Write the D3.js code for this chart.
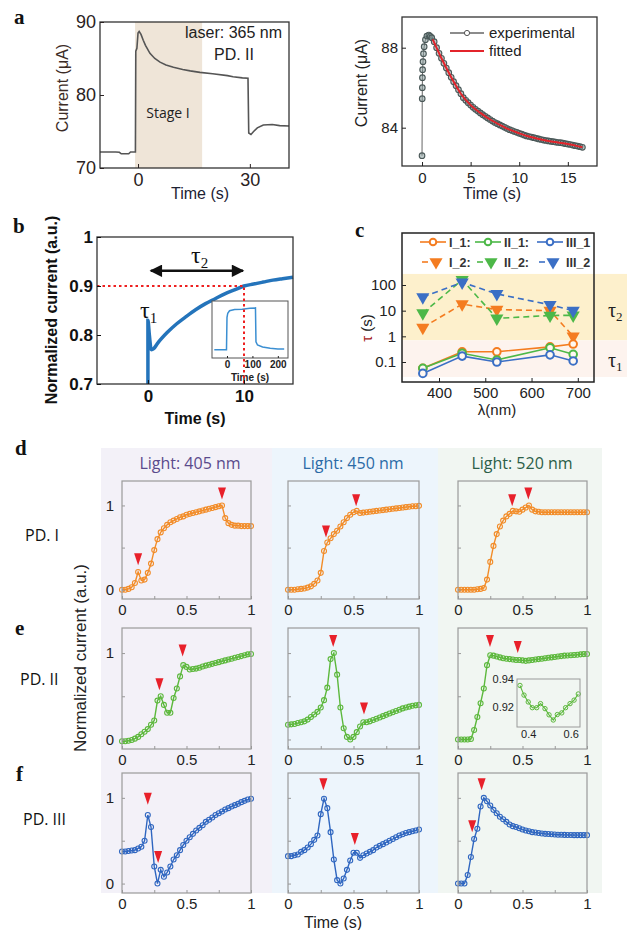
<!DOCTYPE html>
<html>
<head>
<meta charset="utf-8">
<script src="https://cdn.jsdelivr.net/npm/d3@7"></script>
<style>
  body { margin: 0; background: #fff; }
  svg { display: block; }
</style>
</head>
<body>
<svg id="fig" width="627" height="930"></svg>
<script>
// ---------- panel a (left): photocurrent trace ----------
const aTime = [-10.2, -6, -5, -4.5, -2.5, -2, -0.7, -0.6, -0.3, 0, 0.3, 0.8, 1.4, 2, 3.2, 4.5, 5.9, 7.5, 9.5, 12, 14, 16.6, 20, 24, 25.5, 28, 29.5, 29.7, 30.3, 31, 32, 33.6, 36, 38, 40.5];
const aCurrent = [72.2, 72.2, 72.15, 71.95, 71.95, 72.2, 72.2, 86.0, 86.4, 88.5, 88.7, 88.3, 87.5, 86.8, 85.7, 85.0, 84.5, 84.1, 83.8, 83.5, 83.3, 83.1, 82.9, 82.65, 82.5, 82.35, 82.3, 74.8, 74.6, 75.0, 75.5, 75.9, 75.95, 75.8, 75.75];
const stageI = [-0.8, 17.2];
const aLeftYTicks = [70, 80, 90];
const aLeftXTicks = [0, 30];

// ---------- panel a (right): experimental vs fitted ----------
const expTime = [0, 0.02, 0.03, 0.04, 0.06, 0.1, 0.15, 0.22, 0.35, 0.5, 0.7, 0.85,
  1, 1.25, 1.5, 1.75, 2, 2.25, 2.5, 2.75, 3, 3.25, 3.5, 3.75, 4, 4.25, 4.5, 4.75, 5, 5.25, 5.5, 5.75,
  6, 6.25, 6.5, 6.75, 7, 7.25, 7.5, 7.75, 8, 8.25, 8.5, 8.75, 9, 9.25, 9.5, 9.75, 10, 10.25, 10.5, 10.75,
  11, 11.25, 11.5, 11.75, 12, 12.25, 12.5, 12.75, 13, 13.25, 13.5, 13.75, 14, 14.25, 14.5, 14.75,
  15, 15.25, 15.5, 15.75, 16, 16.25, 16.5];
const expCurrent = [82.6, 85.45, 86.0, 86.5, 86.9, 87.3, 87.7, 88.05, 88.4, 88.58, 88.63, 88.57,
  88.5, 88.3, 88.0, 87.72, 87.47, 87.22, 86.98, 86.75, 86.52, 86.3, 86.1, 85.9, 85.7, 85.5, 85.37, 85.25, 85.13, 85.02, 84.92, 84.83,
  84.74, 84.65, 84.57, 84.49, 84.41, 84.33, 84.26, 84.2, 84.14, 84.08, 84.02, 83.96, 83.9, 83.86, 83.81, 83.77, 83.72, 83.68, 83.63, 83.59,
  83.56, 83.53, 83.5, 83.47, 83.44, 83.41, 83.38, 83.36, 83.34, 83.32, 83.3, 83.28, 83.26, 83.25, 83.23, 83.2,
  83.18, 83.16, 83.13, 83.1, 83.08, 83.05, 83.02];
const fitTime = [1.1, 2, 3, 4, 5, 6, 7, 8, 9, 10, 11, 12, 13, 14, 15, 16, 16.5];
const fitCurrent = [88.42, 87.47, 86.52, 85.7, 85.13, 84.74, 84.41, 84.14, 83.9, 83.72, 83.56, 83.44, 83.34, 83.26, 83.18, 83.08, 83.02];
const aRightYTicks = [84, 88];
const aRightXTicks = [0, 5, 10, 15];

// ---------- panel b ----------
const bTime = [0, 0, 0.15, 0.35, 0.6, 1, 2, 3, 4, 5, 6, 7, 8, 9, 10, 11, 12, 13, 14, 15.1];
const bCurrent = [0.70, 0.83, 0.80, 0.77, 0.772, 0.783, 0.805, 0.823, 0.838, 0.852, 0.864, 0.874, 0.884, 0.892, 0.9, 0.904, 0.908, 0.912, 0.915, 0.918];
const bInsetTime = [-50, -2, 0, 3, 10, 30, 60, 90, 112, 114, 120, 140, 170, 200, 225];
const bInsetCurrent = [0, 0, 0.8, 0.9, 0.96, 0.99, 1.0, 1.02, 1.03, 0.2, 0.12, 0.07, 0.04, 0.02, 0.02];
const bYTicks = [0.7, 0.8, 0.9, 1];
const bXTicks = [0, 10];
const bInsetXTicks = [0, 100, 200];
const bThreshold = 0.9, bTau2Time = 10;

// ---------- panel c ----------
const wavelengths = [365, 450, 525, 640, 690];
const tauI1 = [0.057, 0.25, 0.25, 0.39, 0.5];
const tauII1 = [0.057, 0.22, 0.12, 0.36, 0.2];
const tauIII1 = [0.036, 0.17, 0.1, 0.19, 0.11];
const tauI2 = [2.2, 18, 11, 10, 1.0];
const tauII2 = [8, 160, 5, 6.5, 6.6];
const tauIII2 = [34, 127, 45, 17, 10];
const tau2Band = [0.7, 270];
const tau1Band = [0.026, 0.7];
const cXTicks = [400, 500, 600, 700];
const cYTicks = [0.1, 1, 10, 100];

// ---------- panels d-f: normalized transients, sampled every 0.025 s ----------
const sampleTimes = d3.range(41).map(i => i / 40);
const pd1_405 = [0.00,0.00,0.01,0.03,0.08,0.21,0.11,0.12,0.20,0.31,0.47,0.60,0.68,0.73,0.77,0.80,0.82,0.84,0.86,0.87,0.89,0.90,0.91,0.92,0.93,0.94,0.95,0.96,0.97,0.98,0.99,1.00,0.85,0.79,0.77,0.76,0.76,0.755,0.755,0.755,0.755];
const pd1_450 = [0.0,0.0,0.0,0.005,0.01,0.015,0.025,0.04,0.07,0.11,0.2,0.46,0.56,0.61,0.66,0.7,0.75,0.8,0.85,0.89,0.92,0.935,0.91,0.915,0.92,0.925,0.93,0.935,0.94,0.945,0.95,0.955,0.96,0.965,0.97,0.975,0.98,0.985,0.99,0.99,0.995];
const pd1_520 = [0,0,0,0,0,0,0.005,0.01,0.02,0.12,0.33,0.52,0.66,0.75,0.82,0.87,0.9,0.935,0.93,0.925,0.95,0.975,1.0,0.95,0.93,0.925,0.92,0.92,0.92,0.92,0.92,0.92,0.92,0.92,0.92,0.92,0.92,0.92,0.92,0.92,0.92];
const pd2_405 = [-0.02,-0.02,-0.015,-0.005,0.01,0.03,0.06,0.09,0.12,0.17,0.22,0.45,0.5,0.4,0.31,0.31,0.48,0.59,0.73,0.86,0.84,0.81,0.815,0.82,0.83,0.845,0.855,0.865,0.875,0.885,0.895,0.905,0.915,0.925,0.935,0.945,0.955,0.965,0.975,0.985,0.99];
const pd2_450 = [0.17,0.175,0.18,0.19,0.2,0.21,0.23,0.26,0.29,0.32,0.37,0.455,0.6,0.93,1.0,0.75,0.37,0.13,0.03,0.0,0.03,0.085,0.15,0.2,0.2,0.21,0.225,0.24,0.255,0.27,0.285,0.3,0.315,0.33,0.345,0.36,0.37,0.38,0.39,0.395,0.4];
const pd2_520 = [0,0,0,0,0.005,0.11,0.26,0.42,0.59,0.86,0.975,0.97,0.96,0.95,0.94,0.935,0.93,0.925,0.92,0.92,0.915,0.91,0.915,0.92,0.925,0.93,0.935,0.94,0.945,0.95,0.955,0.96,0.965,0.97,0.972,0.975,0.978,0.98,0.985,0.988,0.99];
const pd3_405 = [0.375,0.375,0.38,0.385,0.39,0.41,0.43,0.5,0.8,0.66,0.2,0.0,0.16,0.08,0.13,0.2,0.28,0.33,0.39,0.45,0.5,0.54,0.58,0.62,0.65,0.68,0.72,0.745,0.77,0.8,0.82,0.84,0.865,0.88,0.9,0.915,0.93,0.95,0.965,0.98,0.99];
const pd3_450 = [0.32,0.32,0.33,0.34,0.37,0.39,0.42,0.46,0.51,0.56,0.81,0.99,0.88,0.6,0.28,0.04,0.0,0.06,0.16,0.27,0.36,0.36,0.3,0.33,0.35,0.37,0.39,0.42,0.44,0.46,0.48,0.5,0.52,0.54,0.56,0.575,0.59,0.6,0.61,0.62,0.63];
const pd3_520 = [0,0,0,0.1,0.31,0.52,0.64,0.9,1.0,0.96,0.91,0.86,0.82,0.78,0.75,0.72,0.69,0.67,0.66,0.645,0.63,0.62,0.61,0.6,0.595,0.59,0.585,0.58,0.578,0.575,0.572,0.57,0.57,0.568,0.567,0.566,0.565,0.565,0.565,0.565,0.565];

// red arrow heads: [time, tip value]
const arrows_pd1_405 = [[0.125, 0.29], [0.775, 1.07]];
const arrows_pd1_450 = [[0.29, 0.62], [0.52, 0.99]];
const arrows_pd1_520 = [[0.42, 0.99], [0.545, 1.07]];
const arrows_pd2_405 = [[0.29, 0.57], [0.47, 0.96]];
const arrows_pd2_450 = [[0.345, 1.07], [0.58, 0.29]];
const arrows_pd2_520 = [[0.248, 1.07], [0.463, 1.0]];
const arrows_pd3_405 = [[0.2, 0.92], [0.28, 0.24]];
const arrows_pd3_450 = [[0.27, 1.09], [0.51, 0.45]];
const arrows_pd3_520 = [[0.11, 0.6], [0.183, 1.09]];

// inset of PD.II @ 520 nm
const insetTime = [0.361, 0.38, 0.40, 0.419, 0.44, 0.458, 0.479, 0.498, 0.518, 0.537, 0.558, 0.576, 0.597, 0.616, 0.636];
const insetCurrent = [0.9354, 0.9285, 0.9236, 0.9195, 0.9195, 0.9224, 0.9188, 0.9144, 0.9107, 0.9146, 0.9158, 0.9195, 0.9224, 0.9249, 0.9293];

const lights = ["Light: 405 nm", "Light: 450 nm", "Light: 520 nm"];
const devices = ["PD. I", "PD. II", "PD. III"];

// ---------------------------------------------------------------
const svg = d3.select("#fig");
const SANS = "'Liberation Sans', Arial, sans-serif";
const SERIF = "'Liberation Serif', 'Times New Roman', serif";
const SOFT = "'Open Sans', 'Noto Sans', sans-serif";
const plain = d => `${d}`;

const addAxis = (gen, tx, ty) =>
  svg.append("g").attr("transform", `translate(${tx},${ty})`).call(gen);

const styleAxis = (g, size, color, weight, font) => {
  g.select(".domain").remove();
  g.selectAll(".tick text")
    .attr("font-size", size)
    .attr("font-family", font || SANS)
    .attr("font-weight", weight || "normal")
    .attr("fill", color);
  g.selectAll(".tick line").attr("stroke", color);
  return g;
};

const label = (x, y, txt, size, opts = {}) =>
  svg.append("text")
    .attr("x", x).attr("y", y)
    .attr("font-family", opts.font || SANS)
    .attr("font-size", size)
    .attr("font-weight", opts.weight || "normal")
    .attr("fill", opts.fill || "#111")
    .attr("text-anchor", opts.anchor || "start")
    .attr("transform", opts.rotate ? `rotate(-90,${x},${y})` : null)
    .text(txt);

const frame = (x0, x1, y0, y1, stroke, sw) =>
  svg.append("rect")
    .attr("x", x0).attr("y", y0)
    .attr("width", x1 - x0).attr("height", y1 - y0)
    .attr("fill", "none").attr("stroke", stroke).attr("stroke-width", sw);

// panel letters
[["a", 14, 24], ["b", 13, 233], ["c", 355, 237], ["d", 15, 455], ["e", 15, 635], ["f", 16, 781]]
  .forEach(([t, x, y]) => label(x, y, t, 21, { font: SERIF, weight: "bold" }));

// ================= panel a left =================
const initALeft = () => {
  const x = d3.scaleLinear().domain([-10.2, 40.5]).range([100, 289]);
  const y = d3.scaleLinear().domain([70, 90]).range([168, 22]);

  svg.append("rect")
    .attr("x", x(stageI[0])).attr("y", 22)
    .attr("width", x(stageI[1]) - x(stageI[0])).attr("height", 146)
    .attr("fill", "#efe5d8");

  svg.append("path")
    .datum(d3.zip(aTime, aCurrent))
    .attr("d", d3.line().x(d => x(d[0])).y(d => y(d[1])))
    .attr("fill", "none").attr("stroke", "#555").attr("stroke-width", 1.6);

  frame(100, 289, 22, 168, "#333", 1.3);
  styleAxis(addAxis(d3.axisLeft(y).tickValues(aLeftYTicks).tickFormat(plain).tickSizeInner(-4).tickSizeOuter(0).tickPadding(4), 100, 0), 18, "#2a2222");
  styleAxis(addAxis(d3.axisBottom(x).tickValues(aLeftXTicks).tickFormat(plain).tickSizeInner(-4).tickSizeOuter(0).tickPadding(5), 0, 168), 18, "#2a2222");

  label(282, 38, "laser: 365 nm", 16, { anchor: "end", fill: "#222" });
  label(234, 60, "PD. II", 16, { anchor: "middle", fill: "#222" });
  label(168, 118, "Stage I", 14, { anchor: "middle", font: SOFT, fill: "#222" });
  label(68, 88, "Current (\u03bcA)", 16, { anchor: "middle", rotate: true, fill: "#3c2c26" });
  label(200, 199, "Time (s)", 16, { anchor: "middle", fill: "#1d2233" });
};

// ================= panel a right =================
const initARight = () => {
  const x = d3.scaleLinear().domain([-2.06, 18]).range([402, 597]);
  const y = d3.scaleLinear().domain([84, 88]).range([127.7, 47.7]);

  svg.append("path")
    .datum(d3.zip(expTime, expCurrent))
    .attr("d", d3.line().x(d => x(d[0])).y(d => y(d[1])))
    .attr("fill", "none").attr("stroke", "#666").attr("stroke-width", 1);

  svg.append("g").selectAll("circle")
    .data(d3.zip(expTime, expCurrent))
    .join("circle")
    .attr("cx", d => x(d[0])).attr("cy", d => y(d[1])).attr("r", 2.8)
    .attr("fill", "#7d9393").attr("fill-opacity", 0.5).attr("stroke", "#4a5858").attr("stroke-width", 1.1);

  svg.append("path")
    .datum(d3.zip(fitTime, fitCurrent))
    .attr("d", d3.line().curve(d3.curveMonotoneX).x(d => x(d[0])).y(d => y(d[1])))
    .attr("fill", "none").attr("stroke", "#e3242b").attr("stroke-width", 2);

  frame(402, 597, 17, 166, "#333", 1.3);
  styleAxis(addAxis(d3.axisLeft(y).tickValues(aRightYTicks).tickFormat(plain).tickSizeInner(-4).tickSizeOuter(0).tickPadding(4), 402, 0), 15, "#222");
  styleAxis(addAxis(d3.axisBottom(x).tickValues(aRightXTicks).tickFormat(plain).tickSizeInner(-4).tickSizeOuter(0).tickPadding(6), 0, 166), 15, "#222");

  // legend
  svg.append("line").attr("x1", 450).attr("x2", 484).attr("y1", 33).attr("y2", 33).attr("stroke", "#666").attr("stroke-width", 1.5);
  svg.append("circle").attr("cx", 467).attr("cy", 33).attr("r", 2.6).attr("fill", "#fff").attr("stroke", "#555");
  svg.append("line").attr("x1", 450).attr("x2", 484).attr("y1", 51).attr("y2", 51).attr("stroke", "#e3242b").attr("stroke-width", 2);
  label(489, 38, "experimental", 15, { fill: "#222" });
  label(489, 56, "fitted", 15, { fill: "#222" });

  label(367, 83, "Current (\u03bcA)", 16, { anchor: "middle", rotate: true, fill: "#222" });
  label(492, 199, "Time (s)", 16, { anchor: "middle", fill: "#1d2233" });
};

// ================= panel b =================
const initB = () => {
  const x = d3.scaleLinear().domain([-5.3, 15.1]).range([97, 293]);
  const y = d3.scaleLinear().domain([0.7, 1.0]).range([384, 237]);

  svg.append("defs").html(`
    <marker id="ah" viewBox="0 0 10 10" refX="9" refY="5" markerWidth="5.5" markerHeight="5" orient="auto-start-reverse">
      <path d="M0,0 L10,5 L0,10 Z" fill="#111"/>
    </marker>`);

  const blue = "#2474bb";
  svg.append("path")
    .datum(d3.zip(bTime, bCurrent))
    .attr("d", d3.line().curve(d3.curveMonotoneX).x(d => x(d[0])).y(d => y(d[1])))
    .attr("fill", "none").attr("stroke", blue).attr("stroke-width", 3.5);

  // inset
  const ix = d3.scaleLinear().domain([-59, 240]).range([212, 288]);
  const iy = d3.scaleLinear().domain([-0.2, 1.2]).range([358, 301]);
  svg.append("rect").attr("x", 212).attr("y", 301).attr("width", 76).attr("height", 57)
    .attr("fill", "#fff").attr("stroke", "#555").attr("stroke-width", 1);
  svg.append("path")
    .datum(d3.zip(bInsetTime, bInsetCurrent))
    .attr("d", d3.line().x(d => ix(d[0])).y(d => iy(d[1])))
    .attr("fill", "none").attr("stroke", "#3b8fd2").attr("stroke-width", 1.5);
  styleAxis(addAxis(d3.axisBottom(ix).tickValues(bInsetXTicks).tickFormat(plain).tickSizeInner(-2).tickSizeOuter(0).tickPadding(3), 0, 358), 10, "#222", "bold");
  label(250, 381, "Time (s)", 10, { anchor: "middle", weight: "bold", fill: "#222" });

  // threshold guides
  svg.append("path")
    .attr("d", `M${x.range()[0]},${y(bThreshold)} H${x(bTau2Time)} V${y.range()[0]}`)
    .attr("fill", "none").attr("stroke", "#ee2020").attr("stroke-width", 2).attr("stroke-dasharray", "2.5,3");

  // tau2 arrow
  svg.append("line")
    .attr("x1", x(0.3)).attr("x2", x(9.9)).attr("y1", y(0.931)).attr("y2", y(0.931))
    .attr("stroke", "#111").attr("stroke-width", 2.5)
    .attr("marker-start", "url(#ah)").attr("marker-end", "url(#ah)");

  const t2 = label(191, 263, "\u03c4", 24, { font: SERIF, fill: "#111" });
  t2.append("tspan").attr("font-size", 15).attr("dy", 5).text("2");
  const t1 = label(140, 318, "\u03c4", 24, { font: SERIF, fill: "#111" });
  t1.append("tspan").attr("font-size", 15).attr("dy", 5).text("1");

  frame(97, 293, 237, 384, "#333", 1.3);
  styleAxis(addAxis(d3.axisLeft(y).tickValues(bYTicks).tickFormat(plain).tickSizeInner(-4).tickSizeOuter(0).tickPadding(4), 97, 0), 17, "#111", "bold");
  styleAxis(addAxis(d3.axisBottom(x).tickValues(bXTicks).tickFormat(plain).tickSizeInner(-4).tickSizeOuter(0).tickPadding(6), 0, 384), 17, "#111", "bold");

  label(57, 310, "Normalized current (a.u.)", 16, { anchor: "middle", rotate: true, weight: "bold" });
  label(195, 424, "Time (s)", 16, { anchor: "middle", weight: "bold" });
};

// ================= panel c =================
const initC = () => {
  const x = d3.scaleLinear().domain([320, 735]).range([402, 594]);
  const y = d3.scaleLog().domain([Math.pow(10, -1.779), Math.pow(10, 4.026)]).range([382, 233]);

  svg.append("rect").attr("x", 402).attr("width", 627 - 402)
    .attr("y", y(tau2Band[1])).attr("height", y(tau2Band[0]) - y(tau2Band[1])).attr("fill", "#fdf0cc");
  svg.append("rect").attr("x", 402).attr("width", 627 - 402)
    .attr("y", y(tau1Band[1])).attr("height", y(tau1Band[0]) - y(tau1Band[1])).attr("fill", "#fdf3ee");

  const colours = { I: "#f47c20", II: "#4db848", III: "#3b6fc5" };
  const series = [
    { name: "I_2", values: tauI2, c: colours.I, dash: true },
    { name: "II_2", values: tauII2, c: colours.II, dash: true },
    { name: "III_2", values: tauIII2, c: colours.III, dash: true },
    { name: "I_1", values: tauI1, c: colours.I, dash: false },
    { name: "II_1", values: tauII1, c: colours.II, dash: false },
    { name: "III_1", values: tauIII1, c: colours.III, dash: false }
  ];
  const tri = d3.symbol().type(d3.symbolTriangle).size(75);

  series.forEach(s => {
    const pts = d3.zip(wavelengths, s.values);
    svg.append("path").datum(pts)
      .attr("d", d3.line().x(d => x(d[0])).y(d => y(d[1])))
      .attr("fill", "none").attr("stroke", s.c).attr("stroke-width", 1.6)
      .attr("stroke-dasharray", s.dash ? "6,4" : null);
    const g = svg.append("g");
    if (s.dash) {
      g.selectAll("path").data(pts).join("path")
        .attr("d", tri).attr("transform", d => `translate(${x(d[0])},${y(d[1])}) rotate(180)`)
        .attr("fill", s.c);
    } else {
      g.selectAll("circle").data(pts).join("circle")
        .attr("cx", d => x(d[0])).attr("cy", d => y(d[1])).attr("r", 3.8)
        .attr("fill", "#fff8f2").attr("stroke", s.c).attr("stroke-width", 2);
    }
  });

  // legend
  const legendX = [420, 475, 537];
  const legendText = [["I_1:", "II_1:", "III_1"], ["I_2:", "II_2:", "III_2"]];
  const legendColours = [colours.I, colours.II, colours.III];
  legendX.forEach((lx, i) => {
    svg.append("line").attr("x1", lx).attr("x2", lx + 26).attr("y1", 242).attr("y2", 242)
      .attr("stroke", legendColours[i]).attr("stroke-width", 1.6);
    svg.append("circle").attr("cx", lx + 13).attr("cy", 242).attr("r", 3.3)
      .attr("fill", "#fff").attr("stroke", legendColours[i]).attr("stroke-width", 2);
    svg.append("line").attr("x1", lx + 2).attr("x2", lx + 8).attr("y1", 262).attr("y2", 262)
      .attr("stroke", legendColours[i]).attr("stroke-width", 1.6);
    svg.append("path").attr("d", tri).attr("transform", `translate(${lx + 16},${262}) rotate(180)`)
      .attr("fill", legendColours[i]);
    label(lx + 29, 247, legendText[0][i], 12.5, { weight: "bold", fill: "#333" });
    label(lx + 29, 267, legendText[1][i], 12.5, { weight: "bold", fill: "#333" });
  });

  frame(402, 594, 233, 382, "#222", 1.5);
  styleAxis(addAxis(d3.axisLeft(y).tickValues(cYTicks).tickFormat(plain).tickSizeInner(-4).tickSizeOuter(0).tickPadding(6), 402, 0), 15, "#222");
  styleAxis(addAxis(d3.axisBottom(x).tickValues(cXTicks).tickFormat(plain).tickSizeInner(-4).tickSizeOuter(0).tickPadding(5), 0, 382), 15, "#222");

  const yl = label(372, 328, "", 15, { anchor: "middle", rotate: true, fill: "#222" });
  yl.append("tspan").attr("fill", "#a42020").text("\u03c4");
  yl.append("tspan").text(" (s)");
  label(497, 415, "\u03bb(nm)", 15, { anchor: "middle", fill: "#222" });

  const r2 = label(608, 317, "\u03c4", 20, { font: SERIF, fill: "#222" });
  r2.append("tspan").attr("font-size", 13).attr("dy", 4).text("2");
  const r1 = label(608, 367, "\u03c4", 20, { font: SERIF, fill: "#222" });
  r1.append("tspan").attr("font-size", 13).attr("dy", 4).text("1");
};

// ================= panels d-f =================
const initGrid = () => {
  const colBg = [[101, 272], [272, 438], [438, 602]];
  const bgColours = ["#f3f1f8", "#edf5fc", "#f1f6f2"];
  const titleColours = ["#5a4a8c", "#2b6aa6", "#2c5e48"];
  const titleX = [190, 353, 522];
  const colX = [[122, 251], [288, 419], [458, 587]];
  const rowY = [[481, 599], [628, 749], [773, 893]];
  const rowColours = ["#f28c28", "#5cb83c", "#2f66c0"];
  const rowLabelY = [541, 685, 825];
  const data = [[pd1_405, pd1_450, pd1_520], [pd2_405, pd2_450, pd2_520], [pd3_405, pd3_450, pd3_520]];
  const arrows = [[arrows_pd1_405, arrows_pd1_450, arrows_pd1_520],
                  [arrows_pd2_405, arrows_pd2_450, arrows_pd2_520],
                  [arrows_pd3_405, arrows_pd3_450, arrows_pd3_520]];

  colBg.forEach(([a, b], i) => {
    svg.append("rect").attr("x", a).attr("y", 448).attr("width", b - a).attr("height", 893 - 448).attr("fill", bgColours[i]);
    label(titleX[i], 469, lights[i], 16, { anchor: "middle", font: SOFT, fill: titleColours[i] });
  });

  rowY.forEach(([top, bottom], r) => {
    label(r === 0 ? 25 : r === 1 ? 20 : 23, rowLabelY[r], devices[r], 16, { font: SOFT, fill: "#111" });
    colX.forEach(([left, right], c) => {
      const x = d3.scaleLinear().domain([0, 1]).range([left, right]);
      const y = d3.scaleLinear().domain([-0.11, 1.29]).range([bottom, top]);
      const pts = d3.zip(sampleTimes, data[r][c]);

      svg.append("path").datum(pts)
        .attr("d", d3.line().x(d => x(d[0])).y(d => y(d[1])))
        .attr("fill", "none").attr("stroke", rowColours[r]).attr("stroke-width", 1.4);
      svg.append("g").selectAll("circle").data(pts).join("circle")
        .attr("cx", d => x(d[0])).attr("cy", d => y(d[1])).attr("r", 2.5)
        .attr("fill", "none").attr("stroke", rowColours[r]).attr("stroke-width", 1.1);

      svg.append("g").selectAll("path").data(arrows[r][c]).join("path")
        .attr("d", d => `M${x(d[0]) - 4},${y(d[1]) - 12} L${x(d[0]) + 4},${y(d[1]) - 12} L${x(d[0])},${y(d[1])} Z`)
        .attr("fill", "#e8202a");

      frame(left, right, top, bottom, "#9a9a9a", 1.2);
      const ya = d3.axisLeft(y).tickValues([0, 0.5, 1]).tickSizeInner(-3).tickSizeOuter(0).tickPadding(8)
        .tickFormat(d => (c === 0 && d !== 0.5) ? plain(d) : "");
      styleAxis(addAxis(ya, left, 0), 15, "#222").selectAll(".tick line").attr("stroke", "#999");
      const xa = d3.axisBottom(x).tickValues([0, 0.25, 0.5, 0.75, 1]).tickSizeInner(-3).tickSizeOuter(0).tickPadding(5)
        .tickFormat(d => (d === 0.25 || d === 0.75) ? "" : plain(d));
      styleAxis(addAxis(xa, 0, bottom), 15, "#222").selectAll(".tick line").attr("stroke", "#999");
    });
  });

  // inset in PD.II / 520 nm
  const ix = d3.scaleLinear().domain([0.347, 0.644]).range([517, 580]);
  const iy = d3.scaleLinear().domain([0.9057, 0.94]).range([727, 679]);
  const ipts = d3.zip(insetTime, insetCurrent);
  svg.append("path").datum(ipts)
    .attr("d", d3.line().x(d => ix(d[0])).y(d => iy(d[1])))
    .attr("fill", "none").attr("stroke", rowColours[1]).attr("stroke-width", 1.1);
  svg.append("g").selectAll("circle").data(ipts).join("circle")
    .attr("cx", d => ix(d[0])).attr("cy", d => iy(d[1])).attr("r", 2.2)
    .attr("fill", "none").attr("stroke", rowColours[1]).attr("stroke-width", 1);
  frame(517, 580, 679, 727, "#9a9a9a", 1);
  styleAxis(addAxis(d3.axisLeft(iy).tickValues([0.92, 0.94]).tickFormat(plain).tickSizeInner(0).tickSizeOuter(0).tickPadding(3), 517, 0), 11, "#222");
  styleAxis(addAxis(d3.axisBottom(ix).tickValues([0.4, 0.6]).tickFormat(plain).tickSizeInner(0).tickSizeOuter(0).tickPadding(3), 0, 727), 11, "#222");

  label(86, 658, "Normalized current (a.u.)", 17, { anchor: "middle", rotate: true, fill: "#222" });
  label(333, 928, "Time (s)", 16, { anchor: "middle", fill: "#222" });
};

initALeft();
initARight();
initB();
initC();
initGrid();
</script>
</body>
</html>
